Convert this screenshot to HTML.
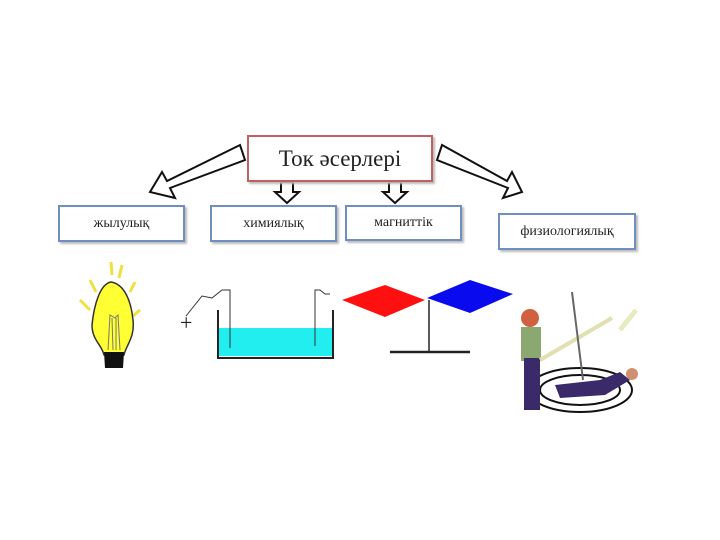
<!DOCTYPE html>
<html><head><meta charset="utf-8"><style>
body{margin:0;width:720px;height:540px;background:#fff;overflow:hidden;font-family:"Liberation Serif",serif}
.b{position:absolute;box-sizing:border-box;border:2px solid #6f8fc0;background:#fff;display:flex;align-items:center;justify-content:center;font-size:14px;color:#222;box-shadow:2px 2px 2px #bbb}
</style></head><body>
<svg width="720" height="540" style="position:absolute;left:0;top:0">
<polygon points="240,145 245,160 170,188 175,198 150,192 162,172 167,181" fill="#fff" stroke="#111" stroke-width="2"/>
<polygon points="442,145 437,160 508,188 503,198 522,192 512,172 507,181" fill="#fff" stroke="#111" stroke-width="2"/>
<polygon points="281,182 293,182 293,192 299,192 287,203 275,192 281,192" fill="#fff" stroke="#111" stroke-width="2"/>
<polygon points="389,182 401,182 401,192 407,192 395,203 383,192 389,192" fill="#fff" stroke="#111" stroke-width="2"/>
<g stroke="#f0e040" stroke-width="3"><line x1="111" y1="262" x2="112" y2="275"/><line x1="122" y1="265" x2="119" y2="278"/><line x1="90" y1="280" x2="96" y2="292"/><line x1="135" y1="282" x2="130" y2="292"/><line x1="80" y1="300" x2="90" y2="310"/><line x1="140" y1="310" x2="133" y2="316"/></g>
<path d="M111,282 C100,284 94,305 92,325 C92,340 102,345 104,355 L124,355 C126,345 135,338 133,320 C131,300 124,284 111,282 Z" fill="#ffff33" stroke="#333" stroke-width="1.5"/>
<path d="M104,352 L124,352 L123,368 L105,368 Z" fill="#111"/>
<path d="M108,350 L110,315 L115,318 L118,315 L120,350 M112,318 L113,350 M116,318 L116,350" fill="none" stroke="#777" stroke-width="1"/>
<rect x="218" y="328" width="114" height="28" fill="#22eef0"/>
<path d="M218,310 L218,358 L333,358 L333,310" fill="none" stroke="#222" stroke-width="2"/>
<path d="M230,348 L230,290 L222,290 L212,298 L202,296 L186,316 M315,346 L315,290 L320,290 L325,294 L330,294" fill="none" stroke="#333" stroke-width="1"/>
<text x="180" y="330" font-size="22" fill="#222">+</text>
<polygon points="342,300 385,285 425,300 385,317" fill="#ff1010"/>
<polygon points="427,298 470,280 513,294 470,313" fill="#0a0aee"/>
<line x1="429" y1="300" x2="429" y2="352" stroke="#222" stroke-width="1.5"/>
<line x1="390" y1="352" x2="470" y2="352" stroke="#222" stroke-width="2.5"/>
<ellipse cx="580" cy="390" rx="52" ry="22" fill="none" stroke="#111" stroke-width="2"/>
<ellipse cx="580" cy="390" rx="40" ry="15" fill="none" stroke="#111" stroke-width="2"/>
<circle cx="530" cy="318" r="9" fill="#d06040"/>
<rect x="521" y="327" width="20" height="34" fill="#8aa870"/>
<rect x="524" y="358" width="16" height="52" fill="#3a2a6a"/>
<line x1="540" y1="360" x2="612" y2="318" stroke="#e0e0b0" stroke-width="4"/>
<line x1="572" y1="292" x2="583" y2="380" stroke="#666" stroke-width="2"/>
<path d="M555,385 L600,380 L620,372 L630,380 L605,395 L560,398 Z" fill="#3a2a6a"/>
<circle cx="632" cy="374" r="6" fill="#d09070"/>
<path d="M620,330 L636,310" stroke="#e8eac0" stroke-width="5"/>
</svg>
<div class="b" style="left:247px;top:135px;width:186px;height:47px;border-color:#c06060;font-size:23px">Ток әсерлері</div>
<div class="b" style="left:58px;top:205px;width:127px;height:37px">жылулық</div>
<div class="b" style="left:210px;top:205px;width:127px;height:37px">химиялық</div>
<div class="b" style="left:345px;top:205px;width:117px;height:36px">магниттік</div>
<div class="b" style="left:498px;top:213px;width:138px;height:37px">физиологиялық</div>
</body></html>
